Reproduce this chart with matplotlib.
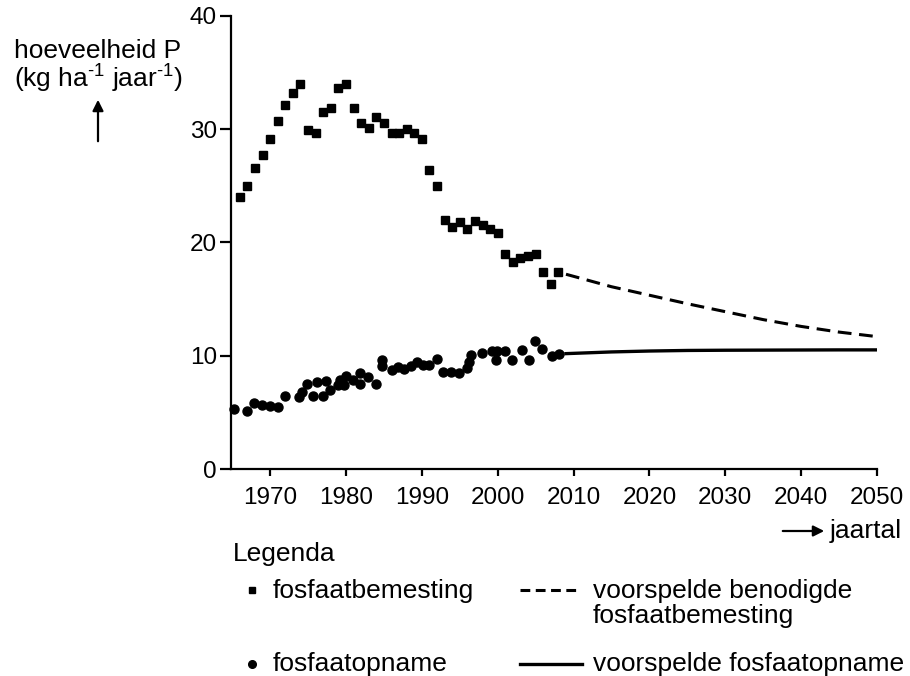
import matplotlib
matplotlib.use("Agg")
import matplotlib.pyplot as plt
from matplotlib.lines import Line2D

plt.rcParams["font.family"] = ["Liberation Sans", "DejaVu Sans"]

# ── Data ──────────────────────────────────────────────────────────────────────
bemesting_years = list(range(1966, 2009))
bemesting = [24.0, 25.0, 26.6, 27.7, 29.1, 30.7, 32.1, 33.2, 34.0, 29.9,
             29.7, 31.5, 31.9, 33.6, 34.0, 31.9, 30.5, 30.1, 31.1, 30.5,
             29.7, 29.7, 30.0, 29.7, 29.1, 26.4, 25.0, 22.0, 21.4, 21.8,
             21.2, 21.9, 21.5, 21.2, 20.8, 19.0, 18.3, 18.6, 18.8, 19.0,
             17.4, 16.3, 17.4]

opname_years = [1965.3, 1966.9, 1967.9, 1968.9, 1970.0, 1971.0, 1972.0, 1973.8,
                1974.2, 1974.9, 1975.7, 1976.2, 1977.0, 1977.4, 1977.9, 1978.9,
                1979.2, 1979.7, 1980.0, 1980.9, 1981.8, 1981.8, 1982.9, 1984.0,
                1984.8, 1984.8, 1986.0, 1986.8, 1987.7, 1988.6, 1989.4, 1990.2,
                1991.0, 1992.0, 1992.8, 1993.8, 1994.9, 1995.9, 1996.2, 1996.5,
                1997.9, 1999.2, 1999.8, 1999.9, 2001.0, 2001.9, 2003.2, 2004.1,
                2004.9, 2005.9, 2007.1, 2008.1]
opname = [5.3, 5.1, 5.85, 5.7, 5.6, 5.45, 6.5, 6.4,
          6.8, 7.55, 6.5, 7.7, 6.45, 7.8, 7.0, 7.4,
          7.9, 7.4, 8.2, 7.9, 8.5, 7.55, 8.1, 7.55,
          9.65, 9.1, 8.8, 9.05, 8.85, 9.1, 9.5, 9.2,
          9.2, 9.75, 8.55, 8.6, 8.45, 8.9, 9.5, 10.1,
          10.25, 10.45, 9.65, 10.45, 10.4, 9.65, 10.55, 9.6,
          11.35, 10.6, 10.0, 10.2]

prog_years = [2009, 2015, 2020, 2025, 2030, 2035, 2040, 2045, 2050]
prog_bemesting = [17.2, 16.1, 15.35, 14.6, 13.9, 13.2, 12.6, 12.1, 11.7]
prog_opname = [10.2, 10.35, 10.43, 10.48, 10.5, 10.51, 10.52, 10.53, 10.53]

x_ticks = [1970, 1980, 1990, 2000, 2010, 2020, 2030, 2040, 2050]
y_ticks = [0, 10, 20, 30, 40]

W, H = 910, 676
fig = plt.figure(figsize=(W / 100, H / 100), dpi=100)
ax = fig.add_axes([230.7 / W, 1 - 469.3 / H, (877 - 230.7) / W, (469.3 - 15.7) / H])

# ── Series ────────────────────────────────────────────────────────────────────
ax.plot(bemesting_years, bemesting, "s", color="black", markersize=6.3, clip_on=False)
ax.plot(opname_years, opname, "o", color="black", markersize=6.5, clip_on=False)
ax.plot(prog_years, prog_bemesting, color="black", linewidth=2.2,
        dashes=(4.5, 2.5))
ax.plot(prog_years, prog_opname, color="black", linewidth=2.4)

ax.set_xlim(1964.8, 2050)
ax.set_ylim(0, 40)
ax.set_xticks(x_ticks)
ax.set_yticks(y_ticks)
for s in ["top", "right"]:
    ax.spines[s].set_visible(False)
for s in ["left", "bottom"]:
    ax.spines[s].set_linewidth(1.6)
ax.tick_params(axis="x", length=5, width=1.6, pad=7.5, labelsize=17.5)
ax.tick_params(axis="y", length=8, width=1.6, pad=2, labelsize=17.5)

# ── Axis labels with arrows ───────────────────────────────────────────────────
def fx(px):
    return px / W


def fy(py):
    return 1 - py / H


fig.text(fx(98), fy(58), "hoeveelheid P", fontsize=19, ha="center", va="baseline")
fig.text(fx(98.5), fy(87),
         "(kg ha$^{\\mathregular{\u20101}}$ jaar$^{\\mathregular{\u20101}}$)",
         fontsize=19, ha="center", va="baseline")
fig.add_artist(matplotlib.patches.FancyArrowPatch(
    (fx(98), fy(144)), (fx(98), fy(97)), transform=fig.transFigure,
    arrowstyle="-|>", mutation_scale=16, color="black", linewidth=1.6))

fig.add_artist(matplotlib.patches.FancyArrowPatch(
    (fx(780), fy(531)), (fx(827), fy(531)), transform=fig.transFigure,
    arrowstyle="-|>", mutation_scale=16, color="black", linewidth=1.6))
fig.text(fx(830), fy(538), "jaartal", fontsize=19, ha="left", va="baseline")

# ── Legend (drawn by hand) ────────────────────────────────────────────────────
fig.text(fx(233), fy(561), "Legenda", fontsize=19, ha="left", va="baseline")

fig.add_artist(Line2D([fx(252)], [fy(590)], marker="s", markersize=4.5,
                      color="black", linestyle="none"))
fig.text(fx(273), fy(598), "fosfaatbemesting", fontsize=19, ha="left", va="baseline")
fig.add_artist(Line2D([fx(252)], [fy(664)], marker="o", markersize=5.5,
                      color="black", linestyle="none"))
fig.text(fx(273), fy(671), "fosfaatopname", fontsize=19, ha="left", va="baseline")

fig.add_artist(Line2D([fx(520), fx(580)], [fy(590), fy(590)], color="black",
                      linewidth=2.2, dashes=(3.2, 1.8)))
fig.text(fx(593), fy(598), "voorspelde benodigde", fontsize=19, ha="left", va="baseline")
fig.text(fx(593), fy(623), "fosfaatbemesting", fontsize=19, ha="left", va="baseline")
fig.add_artist(Line2D([fx(520), fx(582)], [fy(664), fy(664)], color="black",
                      linewidth=2.4))
fig.text(fx(593), fy(671), "voorspelde fosfaatopname", fontsize=19, ha="left", va="baseline")

fig.savefig("out.png", dpi=100)
